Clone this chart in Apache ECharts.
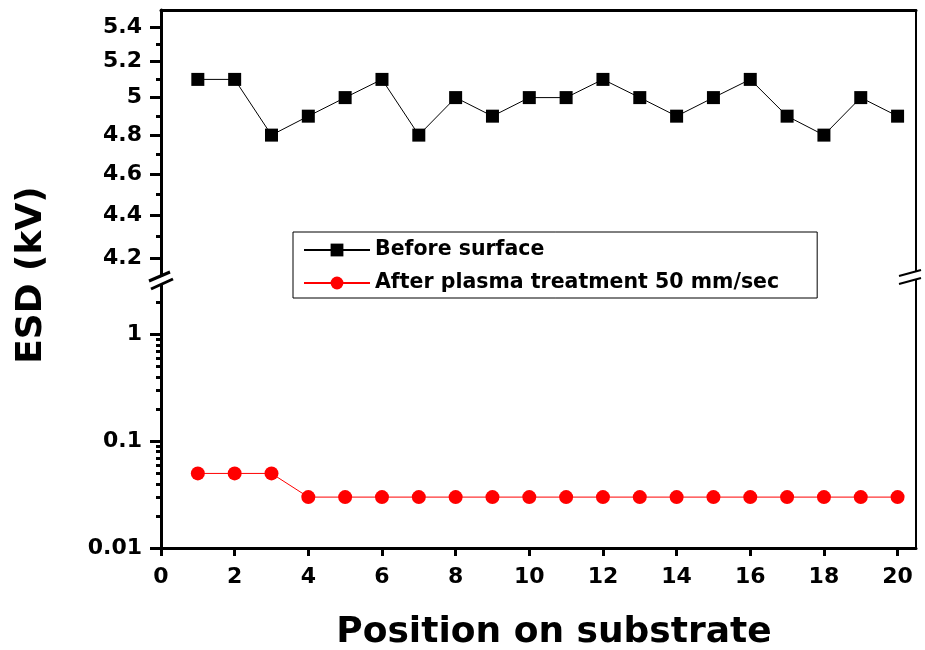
<!DOCTYPE html>
<html>
<head>
<meta charset="utf-8">
<script src="https://cdn.jsdelivr.net/npm/echarts@6/dist/echarts.min.js"></script>
<style>
  html, body { margin: 0; padding: 0; background: #fff; }
  #chart { width: 925px; height: 650px; }
</style>
</head>
<body>
<div id="chart"></div>
<script>
// data
const positions = [1, 2, 3, 4, 5, 6, 7, 8, 9, 10, 11, 12, 13, 14, 15, 16, 17, 18, 19, 20];
const beforeSurface = [5.1, 5.1, 4.8, 4.9, 5.0, 5.1, 4.8, 5.0, 4.9, 5.0, 5.0, 5.1, 5.0, 4.9, 5.0, 5.1, 4.9, 4.8, 5.0, 4.9];
const afterPlasma = [0.05, 0.05, 0.05, 0.03, 0.03, 0.03, 0.03, 0.03, 0.03, 0.03, 0.03, 0.03, 0.03, 0.03, 0.03, 0.03, 0.03, 0.03, 0.03, 0.03];

// axes
const xTicks = [0, 2, 4, 6, 8, 10, 12, 14, 16, 18, 20];
const xRange = [0, 20.5];
const upperTicks = [4.2, 4.4, 4.6, 4.8, 5, 5.2, 5.4];
const upperMinorTicks = [4.3, 4.5, 4.7, 4.9, 5.1, 5.3];
const upperRange = [4.1, 5.5];
const lowerTicks = [0.01, 0.1, 1];
const lowerMinorTicks = [0.02, 0.03, 0.04, 0.05, 0.06, 0.07, 0.08, 0.09,
  0.2, 0.3, 0.4, 0.5, 0.6, 0.7, 0.8, 0.9, 2, 3];
const lowerRange = [0.01, 3.25];

const FONT = '"DejaVu Sans", "Liberation Sans", sans-serif';
const lg = v => Math.log10(v);

// both panels are log scaled in the original, so values go in as log10
function yAxesFor(gridIndex, range, major, minor) {
  const base = {
    type: 'value',
    gridIndex: gridIndex,
    min: lg(range[0]),
    max: lg(range[1]),
    splitLine: { show: false }
  };
  return [
    Object.assign({}, base, {
      position: 'left',
      axisLine: { show: true, onZero: false, lineStyle: { color: '#000', width: 3 } },
      axisTick: { show: true, length: 11, lineStyle: { color: '#000', width: 3 }, customValues: major.map(lg) },
      axisLabel: {
        margin: 19,
        color: '#000',
        fontFamily: FONT,
        fontWeight: 'bold',
        fontSize: 22,
        customValues: major.map(lg),
        formatter: v => String(+Math.pow(10, v).toPrecision(3))
      }
    }),
    Object.assign({}, base, {
      position: 'left',
      axisLine: { show: false, onZero: false },
      axisTick: { show: true, length: 5, lineStyle: { color: '#000', width: 3 }, customValues: minor.map(lg) },
      axisLabel: { show: false }
    }),
    Object.assign({}, base, {
      position: 'right',
      axisLine: { show: true, onZero: false, lineStyle: { color: '#000', width: 2 } },
      axisTick: { show: false },
      axisLabel: { show: false }
    })
  ];
}

const chart = echarts.init(document.getElementById('chart'));

const option = {
  animation: false,
  backgroundColor: '#fff',
  grid: [
    { left: 161, right: 9, top: 10, height: 270 },
    { left: 161, right: 9, top: 280, height: 268 }
  ],
  xAxis: [
    {
      type: 'value',
      gridIndex: 0,
      position: 'top',
      min: xRange[0],
      max: xRange[1],
      axisLine: { show: true, onZero: false, lineStyle: { color: '#000', width: 3 } },
      axisTick: { show: false },
      axisLabel: { show: false },
      splitLine: { show: false }
    },
    {
      type: 'value',
      gridIndex: 1,
      position: 'bottom',
      min: xRange[0],
      max: xRange[1],
      axisLine: { show: true, onZero: false, lineStyle: { color: '#000', width: 3 } },
      axisTick: { show: true, length: 8, lineStyle: { color: '#000', width: 3 }, customValues: xTicks },
      axisLabel: {
        margin: 18,
        color: '#000',
        fontFamily: FONT,
        fontWeight: 'bold',
        fontSize: 22,
        customValues: xTicks
      },
      splitLine: { show: false }
    }
  ],
  yAxis: [].concat(
    yAxesFor(0, upperRange, upperTicks, upperMinorTicks),
    yAxesFor(1, lowerRange, lowerTicks, lowerMinorTicks)
  ),
  legend: {
    orient: 'vertical',
    left: 293,
    top: 232,
    padding: [7, 38, 4, 10],
    itemWidth: 66,
    itemHeight: 16,
    itemGap: 11,
    borderColor: '#000',
    borderWidth: 1,
    backgroundColor: '#fff',
    textStyle: {
      color: '#000',
      fontFamily: FONT,
      fontWeight: 'bold',
      fontSize: 20.5,
      lineHeight: 22
    },
    data: ['Before surface', 'After plasma treatment 50 mm/sec']
  },
  series: [
    {
      name: 'Before surface',
      type: 'line',
      xAxisIndex: 0,
      yAxisIndex: 0,
      symbol: 'rect',
      symbolSize: 13,
      itemStyle: { color: '#000' },
      lineStyle: { color: '#000', width: 1 },
      data: positions.map((x, i) => [x, lg(beforeSurface[i])])
    },
    {
      name: 'After plasma treatment 50 mm/sec',
      type: 'line',
      xAxisIndex: 1,
      yAxisIndex: 3,
      symbol: 'circle',
      symbolSize: 14,
      itemStyle: { color: '#ff0000' },
      lineStyle: { color: '#ff0000', width: 1 },
      data: positions.map((x, i) => [x, lg(afterPlasma[i])])
    }
  ],
  graphic: [
    {
      type: 'text',
      x: 32,
      y: 275,
      rotation: Math.PI / 2,
      style: {
        text: 'ESD (kV)',
        fill: '#000',
        font: 'bold 36px ' + FONT,
        align: 'center',
        verticalAlign: 'middle'
      }
    },
    {
      type: 'text',
      x: 554,
      y: 633,
      style: {
        text: 'Position on substrate',
        fill: '#000',
        font: 'bold 36px ' + FONT,
        align: 'center',
        verticalAlign: 'middle'
      }
    },
    // axis break marks, left side
    {
      type: 'polygon', z: 100,
      shape: { points: [[150, 282], [172, 272], [172, 279], [150, 289]] },
      style: { fill: '#fff' }
    },
    { type: 'line', z: 101, shape: { x1: 149, y1: 281, x2: 170, y2: 272 }, style: { stroke: '#000', lineWidth: 3 } },
    { type: 'line', z: 101, shape: { x1: 151, y1: 289, x2: 173, y2: 279 }, style: { stroke: '#000', lineWidth: 3 } },
    // right side
    {
      type: 'polygon', z: 100,
      shape: { points: [[900, 276], [921, 270], [921, 278], [900, 284]] },
      style: { fill: '#fff' }
    },
    { type: 'line', z: 101, shape: { x1: 899, y1: 276, x2: 921, y2: 270 }, style: { stroke: '#000', lineWidth: 2 } },
    { type: 'line', z: 101, shape: { x1: 899, y1: 284, x2: 921, y2: 278 }, style: { stroke: '#000', lineWidth: 2 } }
  ]
};

chart.setOption(option);
</script>
</body>
</html>
